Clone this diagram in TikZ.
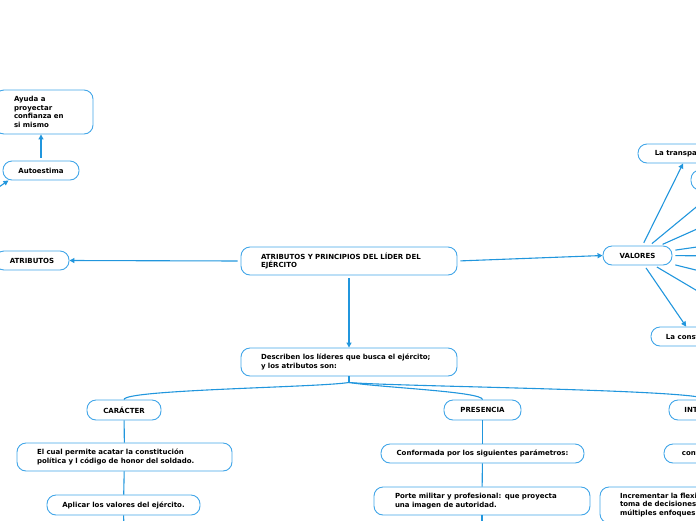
\documentclass[tikz,border=0pt]{standalone}
\usepackage{fontspec}
\setmainfont{DejaVu Sans}
\usepackage{xcolor}
\usetikzlibrary{arrows.meta}
\definecolor{linkblue}{RGB}{33,150,221}
\definecolor{boxblue}{RGB}{66,166,232}

\begin{document}
\begin{tikzpicture}[x=1pt,y=-1pt,
  box/.style={draw=boxblue, line width=0.9pt, rounded corners=9pt, fill=white,
    font=\bfseries\fontsize{7}{8.6}\selectfont, minimum height=19pt,
    inner xsep=0pt, inner ysep=0pt, align=center},
  widebox/.style={box, align=left, text width=#1},
  link/.style={draw=linkblue, line width=1.1pt},
  arrow/.style={link, -{Triangle[length=5pt,width=5pt]}, shorten <=3pt}]
 \useasboundingbox (0,0) rectangle (696,520);
 % centre and left branch
  \node[widebox=176pt, inner xsep=20pt, minimum height=28pt] (main) at (349,261) {ATRIBUTOS Y PRINCIPIOS DEL LÍDER DEL\\EJÉRCITO};
  \node[box, minimum width=74pt] (atributos) at (32,260.5) {ATRIBUTOS};
  \node[box, minimum width=76pt] (autoestima) at (41,170.5) {Autoestima};
  \node[widebox=60pt, inner xsep=19pt, minimum height=44pt] (ayuda) at (44,112) {Ayuda a\\proyectar\\confianza en\\si mismo};
  \coordinate (selfsrc) at (-30,207);
  \draw[arrow] (main.west) -- (atributos.east);
  \draw[arrow] (autoestima.north) -- (autoestima.north |- ayuda.south);
  \draw[arrow] (selfsrc) -- (autoestima.-163);
 % valores and its fan
  \node[box, minimum width=69pt] (valores) at (637.5,255.5) {VALORES};
  \node[box, minimum width=100pt] (transp) at (688,153.5) {La transparencia};
  \node[box, minimum width=76pt, minimum height=20pt] (blank) at (729,180) {};
  \node[box, minimum width=84pt] (cons) at (693,336.5) {La constancia};
  \draw[arrow] (main.east) -- (valores.west);
  \foreach \n/\y in {a/201, b/238, c/256, d/286, e/328}
   \coordinate (fan\n) at (760,\y);
  \foreach \t in {transp, blank, fana, fanb, fanc, fand, fane, cons}
   \draw[arrow] (valores) -- (\t);
 % the attributes
  \node[widebox=176pt, inner xsep=20pt, minimum height=28pt] (describen) at (349,362) {Describen los líderes que busca el ejército;\\y los atributos son:};
  \draw[arrow] (main) -- (describen);
  \node[box, minimum width=74pt, minimum height=20pt] (caracter) at (124,410) {CARÁCTER};
  \node[box, minimum width=77pt, minimum height=20pt] (presencia) at (482.5,410) {PRESENCIA};
  \node[box, minimum width=74pt, minimum height=20pt] (intel) at (706,410) {INTELECTO};
  \draw[link] (describen.south) -- ++(0,6) coordinate (fork);
  \draw[link] (fork) .. controls +(-30,5) and +(0,-10) .. (caracter.north);
  \draw[link] (fork) .. controls +(30,5) and +(0,-8) .. (presencia.north);
  \draw[link] (fork) .. controls +(40,4) and +(0,-10) .. (intel.north);
 % caracter
  \node[widebox=175pt, inner xsep=20pt, minimum height=28pt] (elcual) at (124.5,457) {El cual permite acatar la constitución\\política y l código de honor del soldado.};
  \node[box, minimum width=153pt, minimum height=20pt] (aplicar) at (123.5,505) {Aplicar los valores del ejército.};
  \coordinate (cardown) at (124,540);
  \draw[link] (caracter) -- (elcual);
  \draw[link] (elcual) -- (aplicar);
  \draw[link] (aplicar) -- (cardown);
 % presencia
  \node[box, minimum width=203pt] (conformada) at (482.5,453.5) {Conformada por los siguientes parámetros:};
  \node[widebox=174pt, inner xsep=21pt, minimum height=28pt] (porte) at (482,501) {Porte militar y profesional: que proyecta\\una imagen de autoridad.};
  \coordinate (predown) at (482,540);
  \draw[link] (presencia) -- (conformada);
  \draw[link] (conformada) -- (porte);
  \draw[link] (porte) -- (predown);
 % intelecto
  \node[box, minimum width=80pt] (cont) at (704,453.5) {contempla:};
  \node[widebox=196pt, inner xsep=20pt, minimum height=36pt] (incr) at (718,505) {Incrementar la flexibilidad mental en la\\toma de decisiones al considerar\\múltiples enfoques.};
  \draw[link] (intel) -- (cont);
  \draw[link] (cont) -- (incr);
\end{tikzpicture}
\end{document}
